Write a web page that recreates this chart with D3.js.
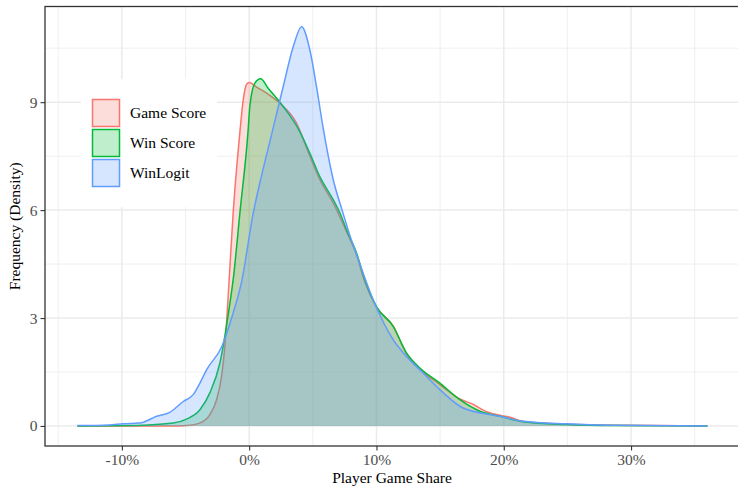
<!DOCTYPE html>
<html><head><meta charset="utf-8">
<script src="https://cdn.jsdelivr.net/npm/d3@7/dist/d3.min.js"></script>
<style>body{margin:0;background:#fff}svg{display:block}</style>
</head><body>
<script>
const seriesNames = ["Game Score", "Win Score", "WinLogit"];
const seriesColors = ["#F8766D", "#00BA38", "#619CFF"];

// [share %, density]
const gameScore = [[-13.5,0],[-8,0],[-5.5,0],[-4.9,0.01],[-3.9,0.08],[-3.1,0.31],[-2.56,0.73],[-2.17,1.38],[-1.91,2.21],[-1.65,3.6],[-1.26,5.92],[-0.76,8.05],[-0.47,9.06],[-0.2,9.5],[0.0,9.55],[0.58,9.42],[1.37,9.25],[2.41,8.97],[3.72,8.42],[4.77,7.5],[5.55,6.85],[6.6,6.2],[7.65,5.4],[8.44,4.75],[9.09,4.0],[10.0,3.3],[11.31,2.78],[12.36,2.0],[13.41,1.58],[14.98,1.15],[16.55,0.75],[17.6,0.6],[18.5,0.42],[19.7,0.3],[20.5,0.24],[21.5,0.13],[23,0.08],[24.9,0.05],[28.6,0.02],[32,0.01],[36,0]];
const winScore = [[-13.5,0],[-9,0.01],[-8.3,0.02],[-5.97,0.08],[-4.92,0.19],[-3.87,0.45],[-3.09,0.92],[-2.3,1.75],[-1.52,3.4],[-1.26,4.06],[-0.73,5.92],[-0.08,8.23],[0.05,8.88],[0.45,9.53],[0.9,9.65],[1.49,9.39],[2.67,8.88],[3.9,8.23],[4.77,7.58],[5.55,6.93],[6.6,6.29],[7.13,5.92],[7.65,5.45],[8.44,4.8],[9.09,4.06],[10.0,3.32],[11.31,2.77],[12.36,2.03],[13.41,1.61],[14.98,1.19],[16.55,0.73],[18.12,0.41],[19.7,0.27],[21.5,0.12],[24.9,0.04],[28.6,0.01],[36,0]];
const winLogit = [[-13.5,0.01],[-11,0.03],[-9.9,0.06],[-8.6,0.08],[-7.27,0.27],[-6.23,0.38],[-5.18,0.68],[-4.4,0.87],[-3.87,1.19],[-3.35,1.56],[-2.15,2.21],[-1.26,3.14],[-0.6,4.0],[0.31,5.9],[1.0,7.0],[1.76,8.1],[2.67,9.43],[3.46,10.54],[4.12,11.1],[4.77,10.45],[5.29,9.43],[5.85,8.2],[6.6,6.85],[7.3,6.0],[8.0,5.2],[8.6,4.6],[9.74,3.51],[11.31,2.4],[12.36,1.93],[13.41,1.56],[14.98,1.01],[16.81,0.5],[19.7,0.27],[21.5,0.13],[24.9,0.06],[28.6,0.02],[36,0]];
const allSeries = [gameScore, winScore, winLogit];

const xTicks = [-10, 0, 10, 20, 30];
const xMinor = [-15, -5, 5, 15, 25, 35];
const yTicks = [0, 3, 6, 9];
const yMinor = [1.5, 4.5, 7.5, 10.5];
const xTitle = "Player Game Share";
const yTitle = "Frequency (Density)";

const W = 738, H = 486;
const L = 45, R = 739, T = 6.5, B = 446;
const font = "'Liberation Serif','Times New Roman',serif";

const svg = d3.select("body").append("svg").attr("width", W).attr("height", H);
const x = d3.scaleLinear().domain([-16.04, 38.48]).range([L, R]);
const y = d3.scaleLinear().domain([-0.557, 11.66]).range([B, T]);

const g = svg.append("g");
// grid
g.selectAll(".xmin").data(xMinor).enter().append("line")
  .attr("x1", d => x(d)).attr("x2", d => x(d)).attr("y1", T).attr("y2", B)
  .attr("stroke", "#EBEBEB").attr("stroke-width", 0.8);
g.selectAll(".ymin").data(yMinor).enter().append("line")
  .attr("y1", d => y(d)).attr("y2", d => y(d)).attr("x1", L).attr("x2", R)
  .attr("stroke", "#EBEBEB").attr("stroke-width", 0.8);
g.selectAll(".xmaj").data(xTicks).enter().append("line")
  .attr("x1", d => x(d)).attr("x2", d => x(d)).attr("y1", T).attr("y2", B)
  .attr("stroke", "#EBEBEB").attr("stroke-width", 1.5);
g.selectAll(".ymaj").data(yTicks).enter().append("line")
  .attr("y1", d => y(d)).attr("y2", d => y(d)).attr("x1", L).attr("x2", R)
  .attr("stroke", "#EBEBEB").attr("stroke-width", 1.5);

const area = d3.area().x(d => x(d[0])).y0(y(0)).y1(d => y(d[1])).curve(d3.curveMonotoneX);
const line = d3.line().x(d => x(d[0])).y(d => y(d[1])).curve(d3.curveMonotoneX);

allSeries.forEach((s, i) => {
  g.append("path").attr("d", area(s)).attr("fill", seriesColors[i]).attr("fill-opacity", 0.25);
  g.append("path").attr("d", line(s)).attr("fill", "none").attr("stroke", seriesColors[i]).attr("stroke-width", 1.5);
});

// border
svg.append("rect").attr("x", L).attr("y", T).attr("width", R - L).attr("height", B - T)
  .attr("fill", "none").attr("stroke", "#333").attr("stroke-width", 1.3);

// axes
const xAxis = svg.append("g").attr("transform", `translate(0,${B})`)
  .call(d3.axisBottom(x).tickValues(xTicks).tickFormat(d => d + "%").tickSize(4.5).tickPadding(3));
const yAxis = svg.append("g").attr("transform", `translate(${L},0)`)
  .call(d3.axisLeft(y).tickValues(yTicks).tickSize(4.5).tickPadding(3));
[xAxis, yAxis].forEach(a => {
  a.select(".domain").remove();
  a.selectAll(".tick line").attr("stroke", "#333").attr("stroke-width", 1.1);
  a.selectAll(".tick text").attr("fill", "#4D4D4D").style("font-family", font).style("font-size", "15.5px");
});

svg.append("text").attr("x", (L + R) / 2).attr("y", 483).attr("text-anchor", "middle")
  .style("font-family", font).style("font-size", "15.5px").attr("fill", "#000").text(xTitle);
svg.append("text").attr("transform", `translate(20,${(T + B) / 2}) rotate(-90)`).attr("text-anchor", "middle")
  .style("font-family", font).style("font-size", "15.5px").attr("fill", "#000").text(yTitle);

// legend
const lg = svg.append("g");
lg.append("rect").attr("x", 81).attr("y", 79).attr("width", 136).attr("height", 128).attr("fill", "#fff");
seriesNames.forEach((n, i) => {
  const ky = 99 + i * 30;
  lg.append("rect").attr("x", 92.5).attr("y", ky + 0.5).attr("width", 27).attr("height", 27)
    .attr("fill", seriesColors[i]).attr("fill-opacity", 0.25).attr("stroke", seriesColors[i]).attr("stroke-width", 1.5);
  lg.append("text").attr("x", 130).attr("y", ky + 14).attr("dy", "0.35em")
    .style("font-family", font).style("font-size", "15.5px").attr("fill", "#000").text(n);
});
</script>
</body></html>
